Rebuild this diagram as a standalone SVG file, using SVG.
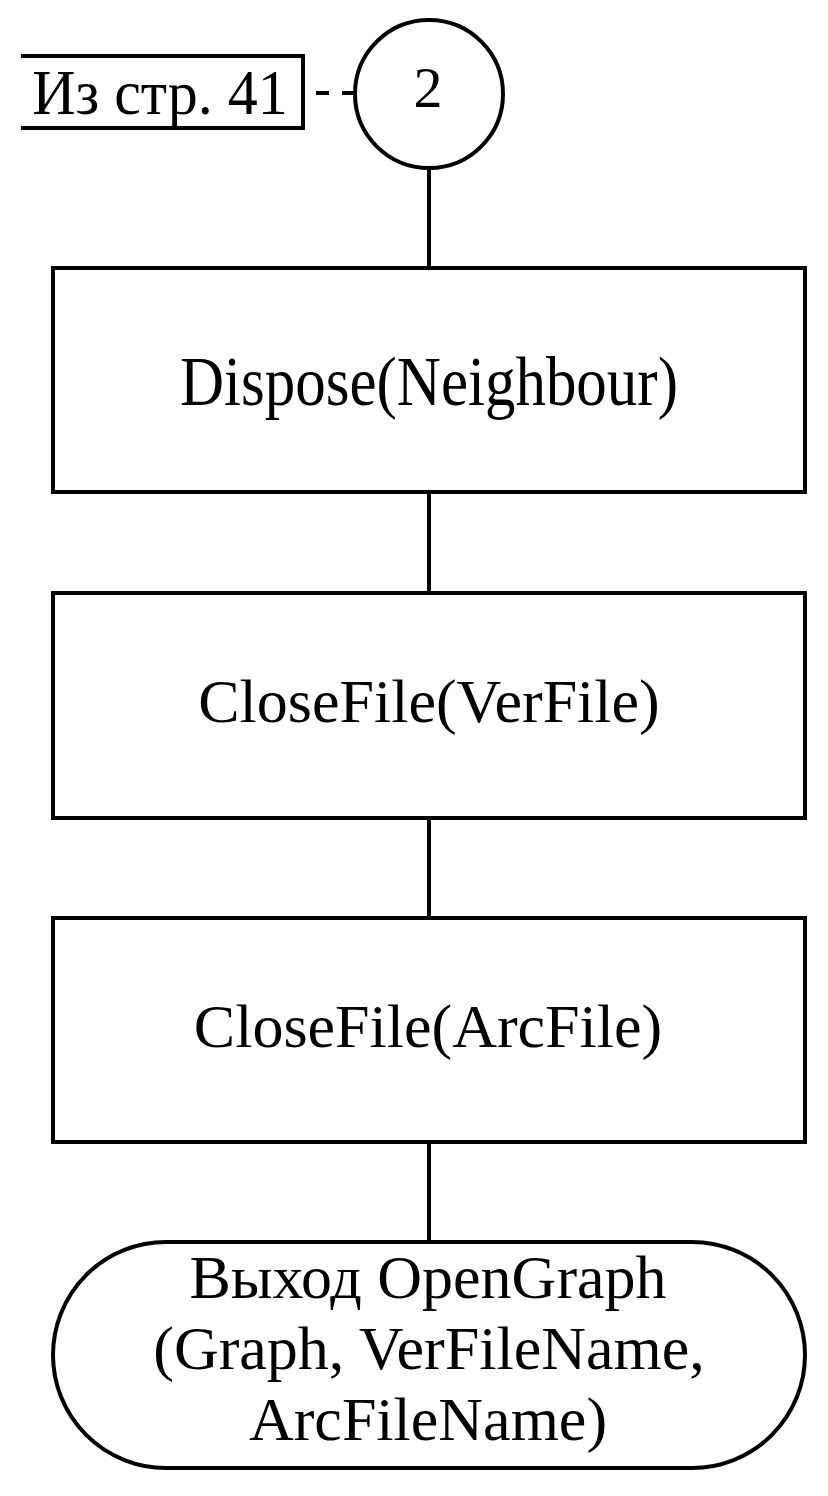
<svg xmlns="http://www.w3.org/2000/svg" width="828" height="1496" viewBox="0 0 828 1496">
<style>
.s{fill:#fff;stroke:#000;stroke-width:4}
.c{fill:none;stroke:#000;stroke-width:4}
.t{font-family:"Liberation Serif","Times New Roman",serif;font-size:62px;fill:#000;text-anchor:middle}
</style>
<rect width="828" height="1496" fill="#fff"/>
<g id="connectors">
<line class="c" x1="304" y1="93" x2="355" y2="93" stroke-dasharray="13,13" stroke-dashoffset="-12"/>
<line class="c" x1="429" y1="168" x2="429" y2="268"/>
<line class="c" x1="429" y1="492" x2="429" y2="593"/>
<line class="c" x1="429" y1="818" x2="429" y2="918"/>
<line class="c" x1="429" y1="1142" x2="429" y2="1242"/>
</g>
<g id="comment">
<path class="c" d="M21,56 H303 V128 H21"/>
<text class="t" style="font-size:60px" transform="translate(160,114) scale(1,1.07)">Из стр. 41</text>
</g>
<g id="connector2">
<circle class="s" cx="429" cy="94" r="74"/>
<text class="t" style="font-size:58px" x="428" y="107">2</text>
</g>
<g id="dispose">
<rect class="s" x="53" y="268" width="752" height="224"/>
<text class="t" style="font-size:61px" transform="translate(429,405) scale(1,1.15)">Dispose(Neighbour)</text>
</g>
<g id="closever">
<rect class="s" x="53" y="593" width="752" height="225"/>
<text class="t" x="429" y="722">CloseFile(VerFile)</text>
</g>
<g id="closearc">
<rect class="s" x="53" y="918" width="752" height="224"/>
<text class="t" x="428" y="1047">CloseFile(ArcFile)</text>
</g>
<g id="exit">
<rect class="s" x="53" y="1242" width="752" height="226" rx="113" ry="113"/>
<text class="t" x="428" y="1298">Выход OpenGraph</text>
<text class="t" x="429" y="1369">(Graph, VerFileName,</text>
<text class="t" x="428" y="1440">ArcFileName)</text>
</g>
</svg>
